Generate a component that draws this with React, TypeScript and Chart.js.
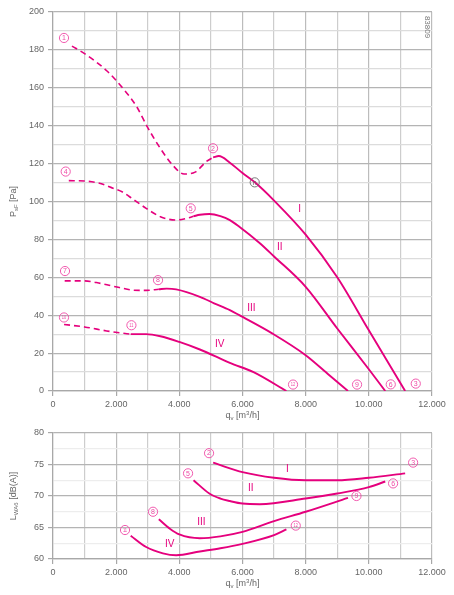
import { useEffect, useRef } from "react";
import { Chart, registerables } from "chart.js";

Chart.register(...registerables);

// ---- pressure curves (flow q_v in m³/h, static pressure in Pa) ----
const flowIDash = [600, 1000, 1700, 2250, 2650, 3000, 3400, 3800, 4150, 4500, 4850, 5070];
const pressIDash = [182, 178, 169, 159, 150, 139, 128, 119, 114.5, 115.5, 121, 123.3];
const flowI = [5070, 5250, 5600, 6000, 6400, 7000, 8000, 9000, 10000, 11150];
const pressI = [123.3, 124, 120.5, 115, 110, 100.5, 82.5, 60, 32, 0];

const flowIIDash = [500, 1000, 1500, 1900, 2200, 2550, 2950, 3400, 3900, 4250, 4450];
const pressIIDash = [111, 110.8, 109.5, 107, 105, 101, 96.4, 92, 90.2, 91.2, 92.2];
const flowII = [4450, 4650, 4950, 5300, 5600, 5900, 6550, 7000, 8000, 9000, 10000, 10520];
const pressII = [92.2, 93, 93.4, 92.3, 90.2, 86.7, 78, 71, 55, 33, 11.5, 0];

const flowIIIDash = [370, 1000, 1500, 2100, 2550, 2950, 3350];
const pressIIIDash = [58.1, 58.1, 56.8, 54.6, 53.2, 53.1, 53.7];
const flowIII = [3350, 3600, 3900, 4650, 5100, 5600, 5900, 6950, 8000, 8750, 9340];
const pressIII = [53.7, 54, 53.6, 49.7, 46.3, 42.7, 40, 30.3, 18.9, 8.3, 0];

const flowIVDash = [350, 1000, 1700, 2100, 2460];
const pressIVDash = [35.1, 33.8, 31.7, 30.7, 30];
const flowIV = [2460, 2950, 3400, 4000, 4650, 5300, 5600, 6350, 7390];
const pressIV = [30, 30, 28.9, 25.9, 21.9, 17.1, 14.8, 10, 0];

// ---- sound power curves (flow q_v in m³/h, L_WA6 in dB(A)) ----
const flowNI = [5070, 5300, 6000, 7000, 8000, 9000, 10000, 11150];
const lwaI = [75.3, 74.9, 73.8, 72.9, 72.5, 72.5, 72.9, 73.6];
const flowNII = [4450, 4950, 5300, 5600, 6000, 6550, 8000, 9000, 10000, 10520];
const lwaII = [72.5, 70.4, 69.6, 69.2, 68.8, 68.7, 69.6, 70.4, 71.4, 72.3];
const flowNIII = [3350, 3700, 4000, 4650, 5300, 6000, 7000, 8000, 9340];
const lwaIII = [66.3, 64.8, 63.9, 63.3, 63.6, 64.3, 66, 67.5, 69.7];
const flowNIV = [2460, 2950, 3480, 3900, 4650, 5300, 6000, 7000, 7390];
const lwaIV = [63.7, 61.9, 60.9, 60.6, 61.2, 61.7, 62.4, 63.8, 64.7];

// ---- axis ranges ----
const flowRange = [0, 12000];
const pressRange = [0, 200];
const lwaRange = [60, 80];

// ---- curve markers: [q, value, text] ----
type Note = [number, number, string];
const pressCircled: Note[] = [
  [348, 186.3, "1"], [5067, 128.1, "2"], [11486, 3.9, "3"],
  [402, 115.8, "4"], [4361, 96.4, "5"], [10694, 3.5, "6"],
  [380, 63.3, "7"], [3325, 58.5, "8"], [9627, 3.4, "9"],
  [348, 38.8, "10"], [2483, 34.7, "11"], [7600, 3.4, "12"],
];
const pressRoman: Note[] = [
  [7810, 96, "I"], [7180, 76.1, "II"], [6282, 43.5, "III"], [5280, 24.5, "IV"],
];
const nominalPoint: Note[] = [[6387, 110.1, "n"]];

const lwaCircled: Note[] = [
  [4941, 76.8, "2"], [11402, 75.3, "3"], [4276, 73.6, "5"], [10768, 72, "6"],
  [3167, 67.5, "8"], [9608, 70, "9"], [2280, 64.6, "11"], [7686, 65.3, "12"],
];
const lwaRoman: Note[] = [
  [7423, 74.2, "I"], [6261, 71.2, "II"], [4700, 65.8, "III"], [3696, 62.3, "IV"],
];

const PINK = "#e5007d";
const PINK_LIGHT = "#ef4aa6";
const FONT = "'Liberation Sans', Arial, sans-serif";
const TEXT = "#666666";

const pts = (xs: number[], ys: number[]) => xs.map((x, i) => ({ x, y: ys[i] }));
const fmtFlow = (v: number) =>
  v === 0 ? "0" : `${Math.floor(v / 1000)}.${String(v % 1000).padStart(3, "0")}`;

const curve = (xs: number[], ys: number[], dashed: boolean) => ({
  data: pts(xs, ys),
  borderColor: PINK,
  borderWidth: dashed ? 1.6 : 1.9,
  borderDash: dashed ? [6, 4] : [],
  pointRadius: 0,
  fill: false,
  cubicInterpolationMode: "monotone" as const,
});

function drawCircled(ctx: CanvasRenderingContext2D, x: number, y: number, t: string, color: string) {
  ctx.save();
  ctx.beginPath();
  ctx.arc(x, y, 4.6, 0, Math.PI * 2);
  ctx.strokeStyle = color;
  ctx.lineWidth = 0.9;
  ctx.stroke();
  ctx.fillStyle = color;
  ctx.textAlign = "center";
  ctx.textBaseline = "middle";
  if (t.length > 1) {
    ctx.font = `5px ${FONT}`;
    ctx.translate(x, y + 0.3);
    ctx.scale(0.8, 1);
    ctx.fillText(t, 0, 0);
  } else {
    ctx.font = `7px ${FONT}`;
    ctx.fillText(t, x, y + 0.4);
  }
  ctx.restore();
}

function drawSubText(
  ctx: CanvasRenderingContext2D,
  parts: { t: string; size: number; dy: number }[],
  cx: number,
  cy: number,
  rot: number
) {
  ctx.save();
  ctx.translate(cx, cy);
  ctx.rotate(rot);
  ctx.fillStyle = TEXT;
  ctx.textBaseline = "middle";
  ctx.textAlign = "left";
  let total = 0;
  for (const p of parts) {
    ctx.font = `${p.size}px ${FONT}`;
    total += ctx.measureText(p.t).width;
  }
  let x = -total / 2;
  for (const p of parts) {
    ctx.font = `${p.size}px ${FONT}`;
    ctx.fillText(p.t, x, p.dy);
    x += ctx.measureText(p.t).width;
  }
  ctx.restore();
}

const qTitle = [
  { t: "q", size: 9, dy: 0 },
  { t: "v", size: 6, dy: 2.5 },
  { t: " [m", size: 9, dy: 0 },
  { t: "3", size: 6, dy: -3 },
  { t: "/h]", size: 9, dy: 0 },
];

function notesPlugin(circled: Note[], roman: Note[], nominal: Note[], yTitle: any[], extra?: (c: Chart) => void) {
  return {
    id: "notes",
    afterDatasetsDraw(chart: Chart) {
      const ctx = chart.ctx;
      const xs = chart.scales.x;
      const ys = chart.scales.y;
      for (const [q, v, t] of circled) drawCircled(ctx, xs.getPixelForValue(q), ys.getPixelForValue(v), t, PINK_LIGHT);
      for (const [q, v, t] of nominal) drawCircled(ctx, xs.getPixelForValue(q), ys.getPixelForValue(v), t, "#6a6a6a");
      ctx.save();
      ctx.fillStyle = PINK;
      ctx.font = `10px ${FONT}`;
      ctx.textAlign = "center";
      ctx.textBaseline = "middle";
      for (const [q, v, t] of roman) ctx.fillText(t, xs.getPixelForValue(q), ys.getPixelForValue(v));
      ctx.restore();
      const a = chart.chartArea;
      drawSubText(ctx, qTitle, (a.left + a.right) / 2, a.bottom + 25, 0);
      drawSubText(ctx, yTitle, 14, (a.top + a.bottom) / 2, -Math.PI / 2);
      if (extra) extra(chart);
    },
  };
}

function axes(yMin: number, yMax: number, yStep: number, yMajor: number, yMinorColor: string, xHeight: number) {
  return {
    x: {
      type: "linear" as const,
      min: flowRange[0],
      max: flowRange[1],
      afterFit: (s: any) => { s.height = xHeight; },
      border: { color: "#a8a8a8", width: 1.2 },
      grid: {
        color: (c: any) => (c.tick && c.tick.value % 2000 === 0 ? "#bcbcbc" : "#cdcdcd"),
        lineWidth: 1.2,
        tickLength: 5,
        tickColor: (c: any) => (c.tick && c.tick.value % 2000 === 0 ? "#a8a8a8" : "transparent"),
      },
      ticks: {
        stepSize: 1000,
        autoSkip: false,
        maxRotation: 0,
        padding: 3,
        color: TEXT,
        font: { family: FONT, size: 9 },
        callback: (v: any) => (v % 2000 === 0 ? fmtFlow(v) : ""),
      },
    },
    y: {
      type: "linear" as const,
      min: yMin,
      max: yMax,
      afterFit: (s: any) => { s.width = 53; },
      border: { color: "#a8a8a8", width: 1.2 },
      grid: {
        color: (c: any) => (c.tick && c.tick.value % yMajor === 0 ? "#b4b4b4" : yMinorColor),
        lineWidth: 1.2,
        tickLength: 5,
        tickColor: (c: any) => (c.tick && c.tick.value % yMajor === 0 ? "#a8a8a8" : "transparent"),
      },
      ticks: {
        stepSize: yStep,
        autoSkip: false,
        padding: 4,
        color: TEXT,
        font: { family: FONT, size: 9 },
        callback: (v: any) => (v % yMajor === 0 ? String(v) : ""),
      },
    },
  };
}

export default function App() {
  const topRef = useRef<HTMLCanvasElement>(null);
  const botRef = useRef<HTMLCanvasElement>(null);

  useEffect(() => {
    const drawId = (c: Chart) => {
      const ctx = c.ctx;
      ctx.save();
      ctx.translate(427, 27);
      ctx.rotate(Math.PI / 2);
      ctx.font = `8px ${FONT}`;
      ctx.fillStyle = "#777";
      ctx.textAlign = "center";
      ctx.textBaseline = "middle";
      ctx.fillText("83809", 0, 0);
      ctx.restore();
    };

    const top = new Chart(topRef.current!, {
      type: "line",
      data: {
        datasets: [
          curve(flowIDash, pressIDash, true),
          curve(flowI, pressI, false),
          curve(flowIIDash, pressIIDash, true),
          curve(flowII, pressII, false),
          curve(flowIIIDash, pressIIIDash, true),
          curve(flowIII, pressIII, false),
          curve(flowIVDash, pressIVDash, true),
          curve(flowIV, pressIV, false),
        ],
      },
      options: {
        responsive: false,
        animation: false,
        layout: { padding: { left: 0, right: 22, top: 12, bottom: 0 } },
        plugins: { legend: { display: false }, tooltip: { enabled: false } },
        scales: axes(pressRange[0], pressRange[1], 10, 20, "#dcdcdc", 29),
      },
      plugins: [
        notesPlugin(pressCircled, pressRoman, nominalPoint, [
          { t: "P", size: 9, dy: 0 },
          { t: "sF", size: 6, dy: 2.5 },
          { t: " [Pa]", size: 9, dy: 0 },
        ], drawId),
      ],
    });

    const bottom = new Chart(botRef.current!, {
      type: "line",
      data: {
        datasets: [
          curve(flowNI, lwaI, false),
          curve(flowNII, lwaII, false),
          curve(flowNIII, lwaIII, false),
          curve(flowNIV, lwaIV, false),
        ],
      },
      options: {
        responsive: false,
        animation: false,
        layout: { padding: { left: 0, right: 22, top: 13, bottom: 0 } },
        plugins: { legend: { display: false }, tooltip: { enabled: false } },
        scales: axes(lwaRange[0], lwaRange[1], 2.5, 5, "#ededed", 36),
      },
      plugins: [
        notesPlugin(lwaCircled, lwaRoman, [], [
          { t: "L", size: 9, dy: 0 },
          { t: "WA6", size: 6, dy: 2.5 },
          { t: " [dB(A)]", size: 9, dy: 0 },
        ]),
      ],
    });

    return () => {
      top.destroy();
      bottom.destroy();
    };
  }, []);

  return (
    <div style={{ position: "absolute", left: 0, top: 0, width: 454, height: 595, background: "#fff" }}>
      <canvas ref={topRef} width={454} height={420} style={{ position: "absolute", left: 0, top: 0 }} />
      <canvas ref={botRef} width={454} height={175} style={{ position: "absolute", left: 0, top: 420 }} />
    </div>
  );
}
